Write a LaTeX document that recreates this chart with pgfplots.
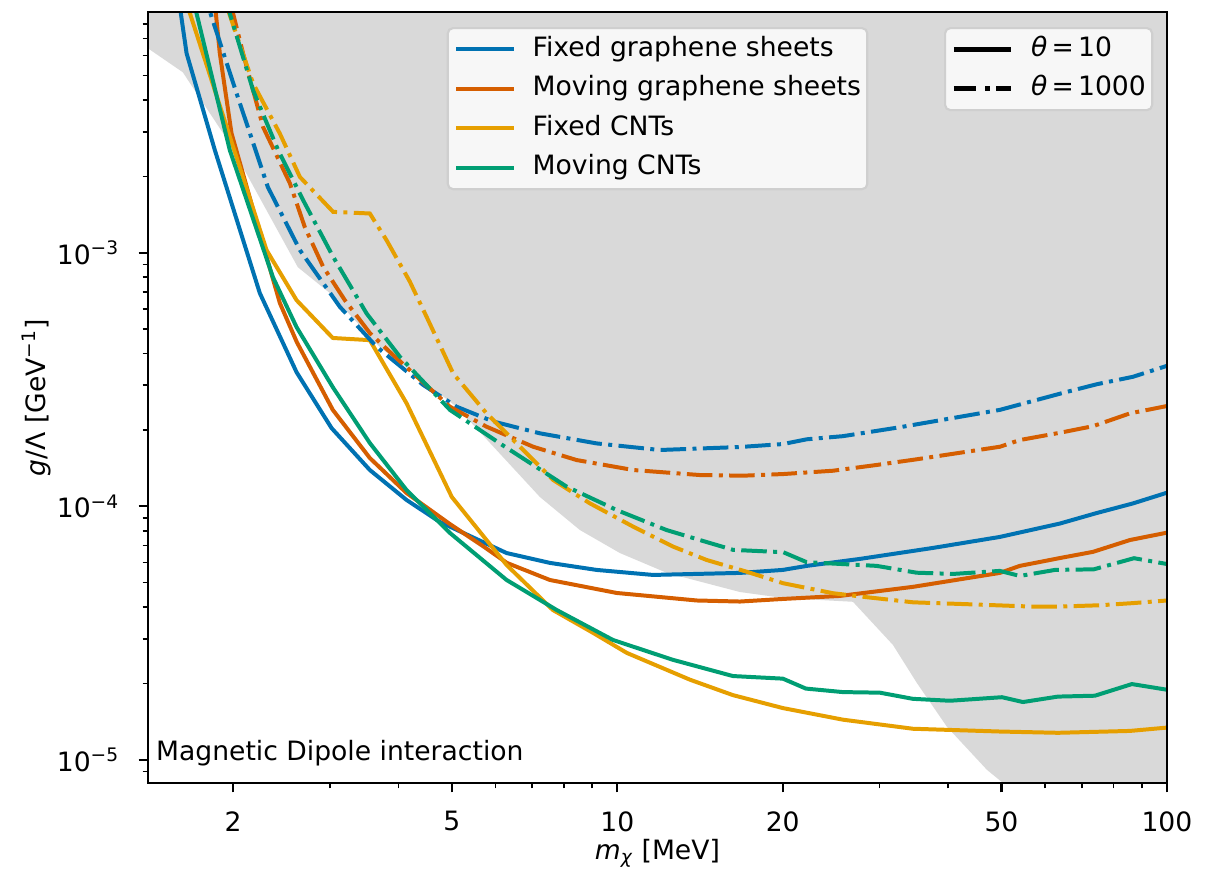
\documentclass[border=0pt]{standalone}
\usepackage{fontspec}
\setmainfont{DejaVu Sans}
\usepackage{pgfplots}
\pgfplotsset{compat=1.18}

\definecolor{cblue}{HTML}{0072B2}
\definecolor{cverm}{HTML}{D55E00}
\definecolor{corange}{HTML}{E69F00}
\definecolor{cgreen}{HTML}{009E73}
\definecolor{greyshade}{HTML}{D9D9D9}
\definecolor{legfill}{HTML}{F7F7F7}
\definecolor{legedge}{HTML}{CFCFCF}

\tikzset{ddot/.style={dash pattern=on 9.6pt off 2.4pt on 1.5pt off 2.4pt}}

\begin{document}
\begin{tikzpicture}
\useasboundingbox (-55.6pt,-32.3pt) rectangle (405.2pt,294.3pt);
\begin{axis}[
  xmode=log, ymode=log,
  scale only axis, width=383pt, height=289.8pt,
  xmin=1.4, xmax=100, ymin=8.1e-6, ymax=8.9e-3,
  axis on top,
  axis line style={line width=0.8pt},
  tick align=outside, tick pos=left,
  major tick length=3.5pt, minor tick length=2pt,
  every tick/.style={black, line width=0.8pt},
  every minor tick/.style={black, line width=0.6pt},
  xtick={2,5,10,20,50,100}, xticklabels={2,5,10,20,50,100},
  minor xtick={3,4,6,7,8,9,30,40,60,70,80,90},
  ytick={1e-5,1e-4,1e-3},
  yticklabels={10\textsuperscript{−5},10\textsuperscript{−4},10\textsuperscript{−3}},
  minor ytick={9e-6,2e-5,3e-5,4e-5,5e-5,6e-5,7e-5,8e-5,9e-5,2e-4,3e-4,4e-4,5e-4,6e-4,7e-4,8e-4,9e-4,2e-3,3e-3,4e-3,5e-3,6e-3,7e-3,8e-3},
  xticklabel style={inner sep=0pt, anchor=north},
  yticklabel style={inner sep=0pt, anchor=east},
  xticklabel shift=7pt, yticklabel shift=7pt,
  xlabel={{\itshape m}\textsubscript{\itshape χ} [MeV]},
  ylabel={{\itshape g}/Λ [GeV\textsuperscript{−1}]},
  every axis x label/.style={at={(axis description cs:0.5,0)}, anchor=base, yshift=-28.6pt},
  every axis y label/.style={at={(axis description cs:-0.1010,0.5)}, rotate=90, anchor=base},
  legend cell align=left,
  legend image code/.code={\draw[#1] (0pt,0pt) -- (21.6pt,0pt);},
  legend style={at={(axis description cs:0.2932,0.9805)}, anchor=north west,
    fill=legfill, draw=legedge, line width=0.8pt, rounded corners=2pt,
    inner xsep=2.4pt, inner ysep=3pt, row sep=4.85pt, font=\normalsize,
    nodes={inner sep=0pt, text height=7.6pt, text depth=2.4pt},
    /tikz/every odd column/.append style={column sep=6.4pt},
    /tikz/every even column/.append style={inner xsep=1.2pt}},
]
% excluded region
\addplot[fill=greyshade, draw=none, forget plot] coordinates {
(1.4,6.40e-3) (1.620,5.15e-3) (1.973,2.70e-3) (2.623,8.77e-4) (3.0,6.93e-4) (3.70,4.24e-4)
(5.108,2.46e-4) (7.232,1.088e-4) (8.55,8.06e-5) (10.11,6.54e-5) (12.31,5.46e-5) (16.72,4.59e-5)
(20.01,4.35e-5) (26.84,4.20e-5) (31.73,2.84e-5) (35.08,2.01e-5) (39.79,1.35e-5) (47.05,9.13e-6)
(50.30,8.11e-6) (53.0,7.0e-6) (100,7.0e-6) (100,1.0e-2) (1.4,1.0e-2) (1.4,6.40e-3)
};

% theta = 10 (solid)
\addplot[cblue, line width=1.5pt, line join=round, forget plot] coordinates {
(1.40,0.07) (1.646,6.12e-3) (1.853,2.54e-3) (2.237,6.93e-4) (2.609,3.38e-4) (3.021,2.035e-4)
(3.547,1.39e-4) (4.136,1.059e-4) (4.756,8.67e-5) (6.290,6.54e-5) (7.541,5.98e-5) (9.17,5.61e-5)
(11.61,5.36e-5) (16.72,5.46e-5) (20.01,5.61e-5) (22.13,5.82e-5) (27.63,6.20e-5) (37.52,6.85e-5)
(49.67,7.57e-5) (63.89,8.55e-5) (74.6,9.41e-5) (86.7,1.026e-4) (100,1.131e-4)
};
\addplot[cverm, line width=1.5pt, line join=round, forget plot] coordinates {
(1.776,0.0245) (1.892,6.12e-3) (1.987,2.96e-3) (2.237,1.195e-3) (2.433,6.33e-4) (2.612,4.44e-4)
(3.037,2.40e-4) (3.547,1.55e-4) (4.136,1.128e-4) (4.960,8.51e-5) (5.695,6.97e-5) (6.297,5.98e-5)
(7.541,5.12e-5) (9.98,4.55e-5) (13.96,4.25e-5) (16.72,4.21e-5) (20.01,4.31e-5) (25.41,4.43e-5)
(34.50,4.81e-5) (49.67,5.46e-5) (54.0,5.82e-5) (63.89,6.25e-5) (73.35,6.61e-5) (85.64,7.36e-5)
(100,7.87e-5)
};
\addplot[corange, line width=1.5pt, line join=round, forget plot] coordinates {
(1.4,0.0286) (2.301,1.024e-3) (2.609,6.50e-4) (3.037,4.61e-4) (3.547,4.52e-4) (4.136,2.55e-4)
(5.00,1.088e-4) (6.290,5.87e-5) (7.635,3.90e-5) (9.03,3.17e-5) (10.41,2.64e-5) (13.56,2.07e-5)
(16.23,1.80e-5) (20.01,1.60e-5) (25.73,1.44e-5) (34.50,1.326e-5) (49.67,1.293e-5) (63.36,1.278e-5)
(85.64,1.30e-5) (100,1.34e-5)
};
\addplot[cgreen, line width=1.5pt, line join=round, forget plot] coordinates {
(1.4,0.054) (1.973,2.54e-3) (2.363,8.01e-4) (2.609,5.09e-4) (3.037,2.95e-4) (3.547,1.776e-4)
(4.136,1.159e-4) (4.960,7.85e-5) (6.290,5.12e-5) (7.757,3.90e-5) (9.82,2.97e-5) (12.62,2.48e-5)
(16.23,2.14e-5) (20.01,2.09e-5) (22.03,1.91e-5) (25.73,1.85e-5) (30.05,1.84e-5) (34.50,1.74e-5)
(40.29,1.71e-5) (50.10,1.766e-5) (54.7,1.69e-5) (63.36,1.776e-5) (73.96,1.79e-5) (86.35,1.99e-5)
(100,1.89e-5)
};

% theta = 1000 (dash-dot)
\addplot[cblue, line width=1.5pt, ddot, forget plot] coordinates {
(1.4,0.05) (2.029,4.26e-3) (2.314,1.814e-3) (2.646,1.024e-3) (3.128,6.12e-4) (3.648,4.26e-4)
(4.435,3.01e-4) (5.101,2.47e-4) (5.945,2.16e-4) (7.232,1.94e-4) (9.17,1.77e-4) (11.95,1.667e-4)
(16.72,1.713e-4) (20.04,1.76e-4) (22.1,1.837e-4) (25.73,1.89e-4) (32.68,2.05e-4) (49.67,2.40e-4)
(64.7,2.80e-4) (74.6,3.03e-4) (86.7,3.24e-4) (100,3.58e-4)
};
\addplot[cverm, line width=1.5pt, ddot, forget plot] coordinates {
(1.74,0.0294) (2.086,6.10e-3) (2.268,3.13e-3) (2.537,1.88e-3) (2.701,1.262e-3) (2.917,8.80e-4)
(3.194,6.50e-4) (3.547,4.82e-4) (3.911,3.95e-4) (4.960,2.47e-4) (5.783,2.06e-4) (7.031,1.717e-4)
(8.43,1.522e-4) (10.69,1.39e-4) (14.13,1.328e-4) (16.92,1.32e-4) (20.04,1.34e-4) (24.69,1.381e-4)
(29.64,1.455e-4) (35.04,1.532e-4) (49.67,1.717e-4) (54.0,1.825e-4) (63.89,1.95e-4) (73.4,2.07e-4)
(85.64,2.325e-4) (100,2.485e-4)
};
\addplot[corange, line width=1.5pt, ddot, forget plot] coordinates {
(1.74,0.0192) (2.175,4.65e-3) (2.433,2.95e-3) (2.646,1.99e-3) (3.042,1.449e-3) (3.547,1.428e-3)
(3.804,1.121e-3) (4.193,7.70e-4) (4.498,5.59e-4) (5.029,3.34e-4) (5.783,2.325e-4) (6.56,1.77e-4)
(7.645,1.27e-4) (8.916,1.027e-4) (10.69,8.31e-5) (12.64,6.93e-5) (14.54,6.14e-5) (17.19,5.52e-5)
(20.04,4.97e-5) (24.69,4.54e-5) (28.42,4.38e-5) (34.55,4.18e-5) (43.2,4.11e-5) (57.0,4.02e-5)
(63.36,4.02e-5) (75.5,4.07e-5) (86.7,4.15e-5) (100,4.25e-5)
};
\addplot[cgreen, line width=1.5pt, ddot, forget plot] coordinates {
(1.74,0.0216) (2.175,4.37e-3) (2.415,2.54e-3) (2.682,1.612e-3) (3.042,9.63e-4) (3.499,5.76e-4)
(4.022,3.89e-4) (4.960,2.40e-4) (6.115,1.77e-4) (8.09,1.195e-4) (9.97,9.67e-5) (12.29,8.06e-5)
(14.13,7.36e-5) (16.25,6.73e-5) (20.04,6.59e-5) (22.1,6.02e-5) (29.64,5.82e-5) (35.04,5.47e-5)
(40.85,5.41e-5) (49.67,5.56e-5) (54.0,5.31e-5) (62.56,5.61e-5) (73.6,5.64e-5) (87.1,6.24e-5)
(100,5.92e-5)
};

\addlegendimage{cblue, line width=1.5pt}
\addlegendentry{Fixed graphene sheets}
\addlegendimage{cverm, line width=1.5pt}
\addlegendentry{Moving graphene sheets}
\addlegendimage{corange, line width=1.5pt}
\addlegendentry{Fixed CNTs}
\addlegendimage{cgreen, line width=1.5pt}
\addlegendentry{Moving CNTs}

\node[anchor=base west, inner sep=0pt] at (axis description cs:0.0075,0.0298) {Magnetic Dipole interaction};
\end{axis}

\begin{axis}[
  xmode=log, ymode=log,
  scale only axis, width=383pt, height=289.8pt,
  xmin=1.4, xmax=100, ymin=8.1e-6, ymax=8.9e-3,
  hide axis,
  legend cell align=left,
  legend image code/.code={\draw[#1] (0pt,0pt) -- (21.6pt,0pt);},
  legend style={at={(axis description cs:0.7812,0.9805)}, anchor=north west,
    fill=legfill, draw=legedge, line width=0.8pt, rounded corners=2pt,
    inner xsep=2.4pt, inner ysep=3pt, row sep=4.85pt, font=\normalsize,
    nodes={inner sep=0pt, text height=7.6pt, text depth=2.4pt},
    /tikz/every odd column/.append style={column sep=6.4pt},
    /tikz/every even column/.append style={inner xsep=1.2pt}},
]
\addlegendimage{black, line width=1.9pt}
\addlegendentry{{\itshape θ}\hspace{1.6pt}=\hspace{1.6pt}10}
\addlegendimage{black, line width=1.9pt, dash pattern=on 8.2pt off 3.6pt on 1.6pt off 2.4pt}
\addlegendentry{{\itshape θ}\hspace{1.6pt}=\hspace{1.6pt}1000}
\end{axis}
\end{tikzpicture}
\end{document}
